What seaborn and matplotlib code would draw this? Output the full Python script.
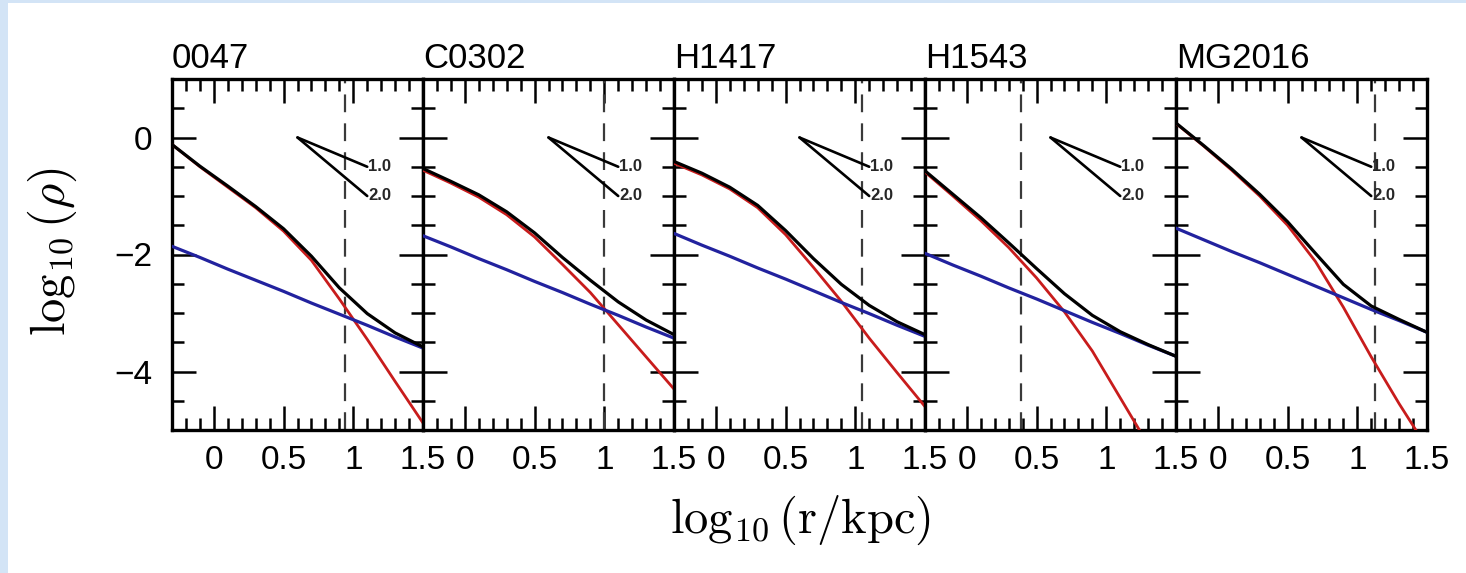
import numpy as np
import pandas as pd
import matplotlib
matplotlib.use("Agg")
import matplotlib.pyplot as plt
import seaborn as sns
from matplotlib.ticker import MultipleLocator, FixedLocator
from matplotlib.patches import Rectangle

# ---------------- data ----------------
names = ["0047", "C0302", "H1417", "H1543", "MG2016"]
log_r = [-0.3, -0.1, 0.1, 0.3, 0.5, 0.7, 0.9, 1.1, 1.3, 1.5]
r_mark = [0.94, 1.00, 1.05, 0.39, 1.13]

stars_0047 = [-0.12, -0.50, -0.85, -1.20, -1.60, -2.10, -2.76, -3.45, -4.17, -4.88]
halo_0047 = [-1.86, -2.05, -2.25, -2.44, -2.63, -2.83, -3.02, -3.21, -3.41, -3.60]
total_0047 = [-0.12, -0.49, -0.83, -1.18, -1.56, -2.03, -2.57, -3.01, -3.34, -3.58]

stars_C0302 = [-0.56, -0.78, -1.02, -1.32, -1.70, -2.17, -2.65, -3.20, -3.75, -4.30]
halo_C0302 = [-1.68, -1.87, -2.07, -2.26, -2.46, -2.65, -2.85, -3.04, -3.24, -3.43]
total_C0302 = [-0.53, -0.75, -0.98, -1.27, -1.63, -2.05, -2.44, -2.81, -3.12, -3.37]

stars_H1417 = [-0.44, -0.64, -0.88, -1.20, -1.66, -2.22, -2.80, -3.43, -4.02, -4.60]
halo_H1417 = [-1.64, -1.84, -2.03, -2.23, -2.42, -2.62, -2.82, -3.01, -3.21, -3.40]
total_H1417 = [-0.41, -0.61, -0.85, -1.16, -1.59, -2.07, -2.51, -2.87, -3.15, -3.37]

stars_H1543 = [-0.59, -1.00, -1.42, -1.88, -2.40, -2.98, -3.65, -4.45, -5.25, -6.10]
halo_H1543 = [-1.98, -2.18, -2.37, -2.57, -2.76, -2.96, -3.16, -3.35, -3.55, -3.74]
total_H1543 = [-0.57, -0.97, -1.37, -1.80, -2.24, -2.67, -3.04, -3.32, -3.54, -3.74]

stars_MG2016 = [0.24, -0.15, -0.56, -1.00, -1.50, -2.12, -2.90, -3.75, -4.55, -5.30]
halo_MG2016 = [-1.55, -1.75, -1.95, -2.14, -2.34, -2.54, -2.74, -2.94, -3.13, -3.33]
total_MG2016 = [0.247, -0.14, -0.54, -0.97, -1.44, -1.98, -2.51, -2.88, -3.11, -3.33]

stars = [stars_0047, stars_C0302, stars_H1417, stars_H1543, stars_MG2016]
halos = [halo_0047, halo_C0302, halo_H1417, halo_H1543, halo_MG2016]
totals = [total_0047, total_C0302, total_H1417, total_H1543, total_MG2016]

slope_x = [0.6, 1.1]
slope1_y = [0.0, -0.5]
slope2_y = [0.0, -1.0]
slope_labels = ["1.0", "2.0"]

x_ticks = [0, 0.5, 1, 1.5]
x_ticklabels = ["0", "0.5", "1", "1.5"]
y_ticks = [0, -2, -4]
y_ticklabels = ["0", "\u22122", "\u22124"]

# ---------------- figure ----------------
sns.set_theme(style="ticks")
plt.rcParams["font.family"] = ["Liberation Sans", "DejaVu Sans"]
plt.rcParams["mathtext.fontset"] = "cm"

W, H = 1466, 573
fig = plt.figure(figsize=(W / 100, H / 100), dpi=100)
fig.patch.set_facecolor("#d3e4f6")
fig.add_artist(Rectangle((8 / W, 0), 1, (H - 3) / H, transform=fig.transFigure,
                         facecolor="white", edgecolor="none", zorder=-5))

left0, top0, bottom0 = 172, 79, 430
pw = 251
for i, name in enumerate(names):
    ax = fig.add_axes([(left0 + i * pw) / W, 1 - bottom0 / H, pw / W, (bottom0 - top0) / H])
    ax.set_facecolor("white")
    df = pd.DataFrame({"log_r": log_r, "stars": stars[i], "halo": halos[i], "total": totals[i]})
    sns.lineplot(data=df, x="log_r", y="stars", ax=ax, color="#c81c1c", lw=2.0, zorder=3)
    sns.lineplot(data=df, x="log_r", y="halo", ax=ax, color="#22229e", lw=2.3, zorder=4)
    sns.lineplot(data=df, x="log_r", y="total", ax=ax, color="black", lw=2.3, zorder=5)
    ax.axvline(r_mark[i], color="#3a3a3a", lw=1.6, ls=(0, (8, 5)), zorder=2)
    ax.plot(slope_x, slope1_y, color="black", lw=1.9)
    ax.plot(slope_x, slope2_y, color="black", lw=1.9)
    ax.text(slope_x[1] + 0.005, slope1_y[1], slope_labels[0], fontsize=12, fontweight="bold",
            va="center", ha="left")
    ax.text(slope_x[1] + 0.005, slope2_y[1], slope_labels[1], fontsize=12, fontweight="bold",
            va="center", ha="left")

    ax.set_xlim(-0.3, 1.5)
    ax.set_ylim(-5, 1)
    ax.xaxis.set_major_locator(FixedLocator(x_ticks))
    ax.set_xticklabels(x_ticklabels)
    ax.xaxis.set_minor_locator(MultipleLocator(0.1))
    ax.yaxis.set_major_locator(FixedLocator(y_ticks))
    ax.yaxis.set_minor_locator(MultipleLocator(0.5))
    if i == 0:
        ax.set_yticklabels(y_ticklabels)
    else:
        ax.set_yticklabels([])
    ax.set_xlabel("")
    ax.set_ylabel("")
    ax.tick_params(which="both", direction="in", top=True, right=True, width=1.8,
                   color="black", labelsize=24, labelcolor="black")
    ax.tick_params(which="major", length=17)
    ax.tick_params(which="minor", length=8.5)
    ax.tick_params(axis="x", which="major", pad=11)
    ax.tick_params(axis="y", which="major", pad=14)
    for s in ax.spines.values():
        s.set_linewidth(2.4)
        s.set_color("black")
    ax.set_title(name, loc="left", fontsize=25, pad=8, color="black")

fig.text(800 / W, 1 - 520 / H, r"$\log_{10}(\mathrm{r/kpc})$", ha="center", va="center",
         fontsize=35, color="black")
fig.text(52 / W, 1 - 252 / H, r"$\log_{10}(\rho)$", ha="center", va="center",
         rotation=90, fontsize=35, color="black")

fig.savefig("out.png", dpi=100, facecolor=fig.get_facecolor())
